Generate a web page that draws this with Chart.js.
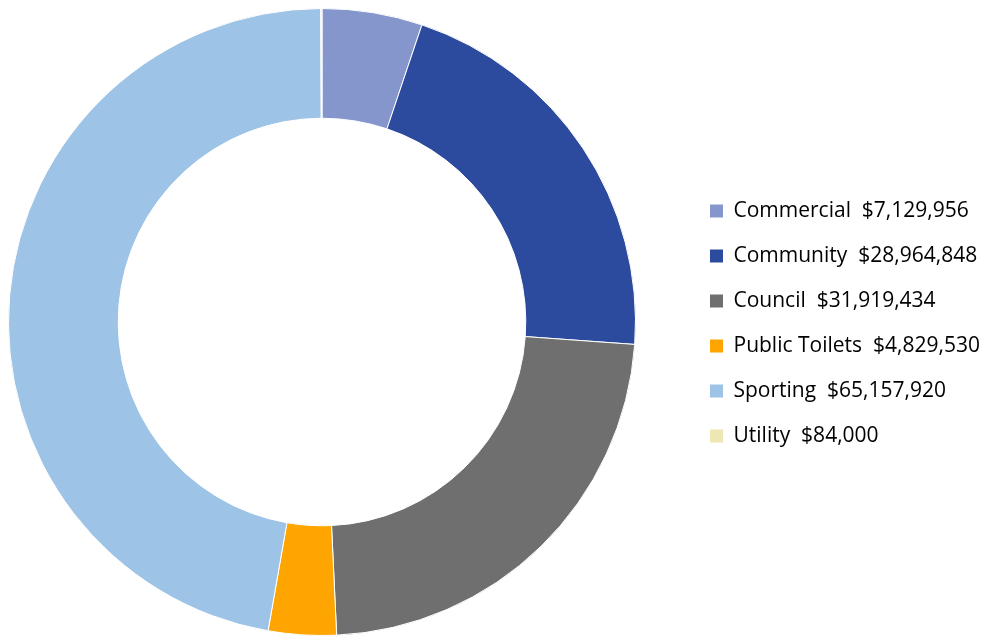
<!DOCTYPE html>
<html>
<head>
<meta charset="utf-8">
<script src="https://cdn.jsdelivr.net/npm/chart.js@4/dist/chart.umd.min.js"></script>
<style>
  html, body { margin: 0; padding: 0; background: #ffffff; }
  #wrap { width: 982px; height: 637px; position: relative; }
</style>
</head>
<body>
<div id="wrap"><canvas id="c" width="982" height="637"></canvas></div>
<script>
const categories = ["Commercial", "Community", "Council", "Public Toilets", "Sporting", "Utility"];
const values = [7129956, 28964848, 31919434, 4829530, 65157920, 84000];
const valueLabels = ["$7,129,956", "$28,964,848", "$31,919,434", "$4,829,530", "$65,157,920", "$84,000"];
const colors = ["#8496CB", "#2D4B9E", "#6F6F70", "#FFA502", "#9DC3E6", "#EEE7B4"];

const placePlugin = {
  id: 'place',
  afterLayout(chart) {
    chart.chartArea = { left: 8, top: 8, right: 636, bottom: 636, width: 628, height: 628 };
    const lg = chart.legend;
    if (lg) {
      const w = lg.width;
      lg.left = 686;
      lg.right = 686 + w;
      lg.top += 5;
      lg.bottom += 5;
    }
  }
};

new Chart(document.getElementById('c'), {
  type: 'doughnut',
  data: {
    labels: categories,
    datasets: [{
      data: values,
      backgroundColor: colors,
      borderColor: '#ffffff',
      borderWidth: 1
    }]
  },
  options: {
    responsive: false,
    animation: false,
    cutout: '65%',
    layout: { padding: 0 },
    plugins: {
      tooltip: { enabled: false },
      legend: {
        position: 'right',
        align: 'center',
        labels: {
          boxWidth: 13,
          boxHeight: 13,
          padding: 24,
          color: '#595959',
          font: { family: 'Open Sans', size: 21 },
          generateLabels(chart) {
            return categories.map((c, i) => ({
              text: c + '  ' + valueLabels[i],
              fillStyle: colors[i],
              strokeStyle: colors[i],
              lineWidth: 0,
              hidden: false,
              index: i
            }));
          }
        }
      }
    }
  },
  plugins: [placePlugin]
});
</script>
</body>
</html>
